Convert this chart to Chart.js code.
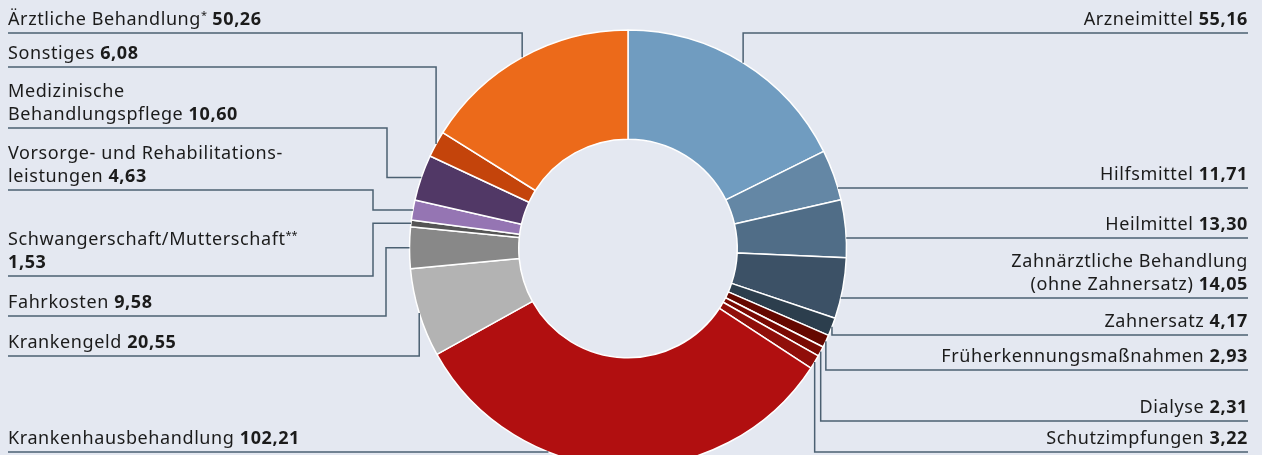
<!DOCTYPE html>
<html lang="de">
<head>
<meta charset="utf-8">
<title>Leistungsausgaben</title>
<script src="https://cdn.jsdelivr.net/npm/chart.js@4/dist/chart.umd.min.js"></script>
<style>
  html, body { margin: 0; padding: 0; background: #e4e8f1; overflow: hidden; }
  #wrap { width: 1262px; height: 455px; }
</style>
</head>
<body>
<div id="wrap"><canvas id="chart" width="1262" height="455"></canvas></div>
<script>
// Werte in Mrd. Euro, im Uhrzeigersinn ab 12 Uhr
const categories = [
  'Arzneimittel',
  'Hilfsmittel',
  'Heilmittel',
  'Zahnärztliche Behandlung\n(ohne Zahnersatz)',
  'Zahnersatz',
  'Früherkennungsmaßnahmen',
  'Dialyse',
  'Schutzimpfungen',
  'Krankenhausbehandlung',
  'Krankengeld',
  'Fahrkosten',
  'Schwangerschaft/Mutterschaft**\n',
  'Vorsorge- und Rehabilitations-\nleistungen',
  'Medizinische\nBehandlungspflege',
  'Sonstiges',
  'Ärztliche Behandlung*'
];
const values = [55.16, 11.71, 13.30, 14.05, 4.17, 2.93, 2.31, 3.22, 102.21, 20.55, 9.58, 1.53, 4.63, 10.60, 6.08, 50.26];
const colors = [
  '#709cc0', '#6487a5', '#506d87', '#3c5166', '#2c3e4d',
  '#650800', '#7a0a03', '#900f0a', '#b10f10',
  '#b3b3b3', '#888888', '#555555',
  '#9575b3', '#513866', '#c4440b', '#ec6a1a'
];

// label layout: side, y of the underline, how the leader reaches the ring
const labelSide = ['r', 'r', 'r', 'r', 'r', 'r', 'r', 'r', 'l', 'l', 'l', 'l', 'l', 'l', 'l', 'l'];
const labelLineY = [33, 188, 238, 298, 335, 370, 421, 452, 452, 356, 316, 276, 190, 128, 67, 33];
const labelMode = ['vertical', 'direct', 'direct', 'direct', 'vertical', 'vertical', 'vertical', 'vertical',
                   'direct', 'vertical', 'elbow', 'elbow', 'elbow', 'elbow', 'vertical', 'vertical'];
const labelElbowX = [null, null, null, null, null, null, null, null, null, null, 386, 373, 373, 387, null, null];

const FONT = '"Noto Sans", "Open Sans", sans-serif';
const SIZE = 18;
const TEXT_LEFT = 8;
const TEXT_RIGHT = 1248;

const fmt = v => v.toFixed(2).replace('.', ',');

// draws a text line, trailing * as superscript; returns width
function drawPart(ctx, str, x, y, bold, measureOnly) {
  const m = str.match(/^(.*?)(\*+)(\s*)$/);
  const main = m ? m[1] : str;
  const sup = m ? m[2] : '';
  const tail = m ? m[3] : '';
  ctx.letterSpacing = '0.6px';
  ctx.font = (bold ? '700 ' : '400 ') + SIZE + 'px ' + FONT;
  const w1 = ctx.measureText(main).width;
  const wt = tail ? ctx.measureText(tail).width : 0;
  ctx.letterSpacing = '0px';
  ctx.font = '400 11px ' + FONT;
  const w2 = sup ? ctx.measureText(sup).width : 0;
  if (!measureOnly) {
    ctx.letterSpacing = '0.6px';
    ctx.font = (bold ? '700 ' : '400 ') + SIZE + 'px ' + FONT;
    ctx.fillText(main, x, y);
    if (sup) {
      ctx.letterSpacing = '0px';
      ctx.font = '400 11px ' + FONT;
      ctx.fillText(sup, x + w1, y - 6);
    }
  }
  ctx.letterSpacing = '0px';
  return w1 + w2 + wt;
}

const leaderLabels = {
  id: 'leaderLabels',
  afterDraw(chart) {
    const ctx = chart.ctx;
    const meta = chart.getDatasetMeta(0);
    ctx.save();
    ctx.textBaseline = 'alphabetic';
    ctx.textAlign = 'left';
    meta.data.forEach((arc, i) => {
      const { x: cx, y: cy, startAngle, endAngle, outerRadius } = arc.getProps(['x', 'y', 'startAngle', 'endAngle', 'outerRadius'], true);
      const r = outerRadius;
      const mid = (startAngle + endAngle) / 2;
      const ax = cx + Math.cos(mid) * r;
      const ay = cy + Math.sin(mid) * r;
      const side = labelSide[i];
      const ly = labelLineY[i];
      const edgeX = side === 'l' ? TEXT_LEFT : TEXT_RIGHT;

      // leader line
      ctx.strokeStyle = '#4b6072';
      ctx.lineWidth = 1.5;
      ctx.beginPath();
      ctx.moveTo(edgeX, ly);
      if (labelMode[i] === 'direct') {
        const dy = ly - cy;
        const dx = Math.sqrt(Math.max(r * r - dy * dy, 0));
        ctx.lineTo(side === 'l' ? cx - dx : cx + dx, ly);
      } else if (labelMode[i] === 'vertical') {
        ctx.lineTo(ax, ly);
        ctx.lineTo(ax, ay);
      } else {
        const ex = labelElbowX[i];
        ctx.lineTo(ex, ly);
        ctx.lineTo(ex, ay);
        ctx.lineTo(ax, ay);
      }
      ctx.stroke();

      // text
      ctx.fillStyle = '#1b1b1b';
      const lines = categories[i].split('\n');
      const n = lines.length;
      lines.forEach((line, k) => {
        const baseY = ly - 8 - (n - 1 - k) * 23;
        const isLast = k === n - 1;
        const valStr = fmt(values[i]);
        const txt = isLast && line !== '' ? line + ' ' : line;
        if (side === 'l') {
          const w = drawPart(ctx, txt, TEXT_LEFT, baseY, false, false);
          if (isLast) drawPart(ctx, valStr, TEXT_LEFT + w, baseY, true, false);
        } else {
          const wv = isLast ? drawPart(ctx, valStr, 0, 0, true, true) : 0;
          const wt = drawPart(ctx, txt, 0, 0, false, true);
          const x0 = TEXT_RIGHT - wv - wt;
          drawPart(ctx, txt, x0, baseY, false, false);
          if (isLast) drawPart(ctx, valStr, x0 + wt, baseY, true, false);
        }
      });
    });
    ctx.restore();
  }
};

new Chart(document.getElementById('chart'), {
  type: 'doughnut',
  data: {
    labels: categories,
    datasets: [{
      data: values,
      backgroundColor: colors,
      borderColor: '#ffffff',
      borderWidth: 1.5,
      radius: 218.5,
      cutout: '50%',
      clip: false
    }]
  },
  options: {
    responsive: false,
    animation: false,
    events: [],
    layout: { padding: { top: 42, left: 0, right: 6, bottom: 0 } },
    plugins: {
      legend: { display: false },
      tooltip: { enabled: false }
    }
  },
  plugins: [leaderLabels]
});
</script>
</body>
</html>
